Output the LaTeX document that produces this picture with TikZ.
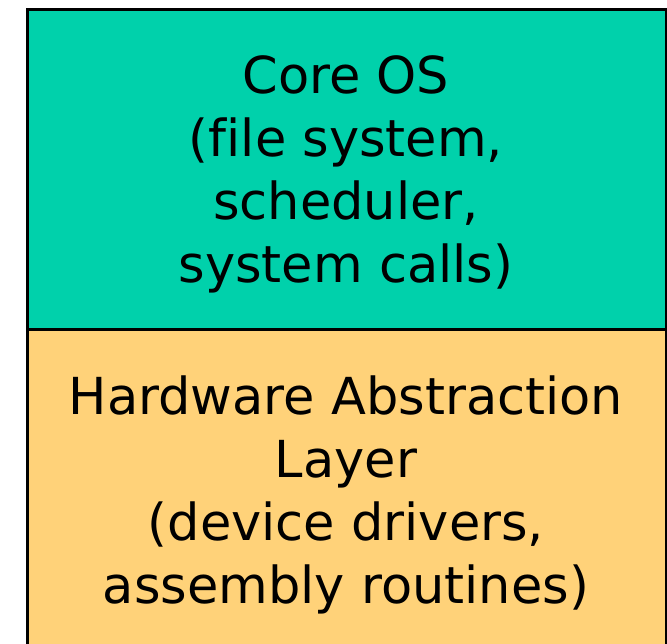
\documentclass[tikz,border=0pt]{standalone}
\usepackage{fontspec}
\setmainfont[Ligatures=NoCommon]{DejaVu Sans}
\definecolor{coreteal}{HTML}{00D1AB}
\definecolor{halorange}{HTML}{FFD279}
\begin{document}
\begin{tikzpicture}[x=1pt,y=1pt,
  layerbox/.style={draw=black, line width=2.6pt, anchor=north west, inner sep=0pt},
  layertext/.style={align=center, font=\fontsize{51}{63}\selectfont, inner sep=0pt}]
\useasboundingbox (0,0) rectangle (667,643);
\clip (0,0) rectangle (667,643);
\node[layerbox, fill=coreteal, minimum width=639pt, minimum height=320pt] (core) at (26,635) {};
\node[layerbox, fill=halorange, minimum width=639pt, minimum height=330pt] (hal) at (26,315) {};
\node[layertext] (coretext) at (346,469) {Core OS\\(file system,\\scheduler,\\system calls)};
\node[layertext] (haltext) at (346,148) {Hardware Abstraction\\Layer\\(device drivers,\\assembly routines)};
\end{tikzpicture}
\end{document}
